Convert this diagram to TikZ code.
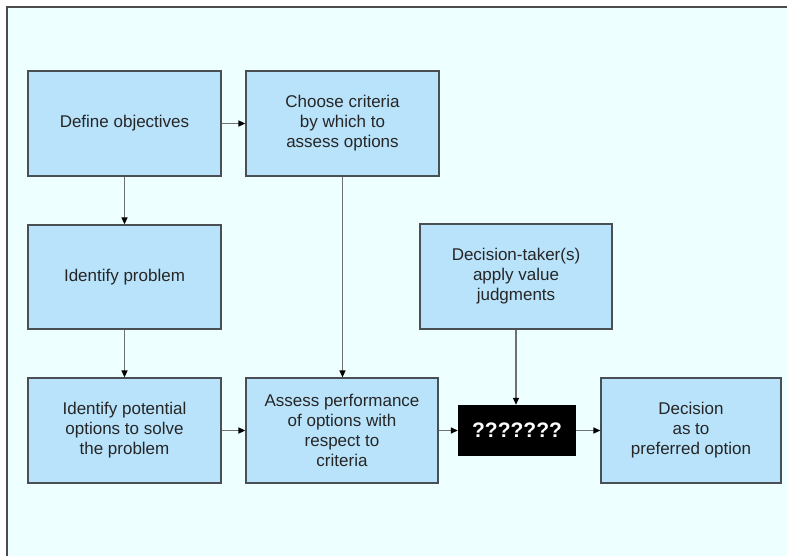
\documentclass[tikz,border=0pt]{standalone}
\usepackage{fontspec}
\setmainfont{Liberation Sans}
\usetikzlibrary{arrows.meta}
\definecolor{bgc}{HTML}{EEFFFF}
\definecolor{boxfill}{HTML}{B9E3FB}
\definecolor{boxline}{HTML}{4A4F55}
\definecolor{arrline}{HTML}{707070}
\begin{document}
\begin{tikzpicture}[x=1pt,y=-1pt,
  box/.style={draw=boxline, line width=1.2pt, fill=boxfill, inner sep=0pt,
    align=center, font=\fontsize{17}{20}\selectfont, text=black!85},
  qbox/.style={fill=black, inner sep=0pt, align=center,
    font=\fontsize{21}{24}\selectfont\bfseries, text=white},
  conn/.style={draw=arrline, line width=1.4pt,
    -{Triangle[length=7pt,width=6pt,color=black]}}]
\useasboundingbox (0,0) rectangle (787,556);
\fill[white] (0,0) rectangle (787,556);
\fill[bgc] (7,7) rectangle (790,560);
\draw[black!70, line width=2pt] (7,560) -- (7,7) -- (790,7);

\node[box, minimum width=193pt, minimum height=105pt] (def) at (124.5,123.5) {Define objectives};
\node[box, minimum width=193pt, minimum height=105pt] (cho) at (342.5,123.5) {Choose criteria\\by which to\\assess options};
\node[box, minimum width=193pt, minimum height=104pt] (idp) at (124.5,277) {Identify problem};
\node[box, minimum width=193pt, minimum height=105pt] (pot) at (124.5,430.5) {Identify potential\\options to solve\\the problem};
\node[box, minimum width=192pt, minimum height=105pt] (ass) at (342,430.5) {Assess performance\\of options with\\respect to\\criteria};
\node[box, minimum width=192pt, minimum height=105pt] (dtk) at (516,276.5) {Decision-taker(s)\\apply value\\judgments};
\node[qbox, minimum width=118pt, minimum height=51pt] (q) at (517,430.5) {???????};
\node[box, minimum width=180pt, minimum height=105pt] (dec) at (691,430.5) {Decision\\as to\\preferred option};

\draw[conn] (def.east) -- (cho.west);
\draw[conn] (def.south) -- (idp.north);
\draw[conn] (idp.south) -- (pot.north);
\draw[conn] (pot.east) -- (ass.west);
\draw[conn] (cho.south) -- (cho.south |- ass.north);
\draw[conn] (ass.east) -- (q.west);
\draw[conn] (dtk.south) -- (dtk.south |- q.north);
\draw[conn] (q.east) -- (dec.west);
\end{tikzpicture}
\end{document}
